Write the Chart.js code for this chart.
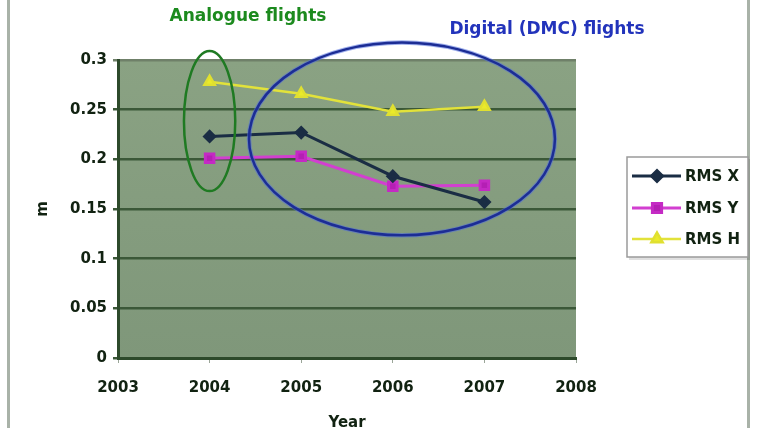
<!DOCTYPE html>
<html>
<head>
<meta charset="utf-8">
<script src="https://cdn.jsdelivr.net/npm/chart.js@4.4.1/dist/chart.umd.min.js"></script>
<style>
  html, body { margin: 0; padding: 0; background: #fff; }
  #wrap { width: 760px; height: 428px; position: relative; }
</style>
</head>
<body>
<div id="wrap"><canvas id="rmsChart" width="760" height="428"></canvas></div>
<script>
// data
const years = [2004, 2005, 2006, 2007];
const rmsX = [0.223, 0.227, 0.183, 0.157];
const rmsY = [0.201, 0.203, 0.173, 0.174];
const rmsH = [0.278, 0.266, 0.248, 0.253];
const yTicks = [0, 0.05, 0.1, 0.15, 0.2, 0.25, 0.3];
const seriesNames = ['RMS X', 'RMS Y', 'RMS H'];

// ellipse annotations, in data units: [centerYear, centerValue, radiusYears, radiusValue]
const analogueRing = [2004, 0.2385, 0.28, 0.0705];
const digitalRing = [2006.1, 0.2205, 1.67, 0.097];

const FONT = 'DejaVu Sans';
const TEXT = '#112211';

const toPoints = (vals) => vals.map((v, i) => ({ x: years[i], y: v }));

// background, frame, plot fill
const backdrop = {
  id: 'backdrop',
  beforeDraw(chart) {
    const { ctx, chartArea: a } = chart;
    ctx.save();
    ctx.fillStyle = '#ffffff';
    ctx.fillRect(0, 0, chart.width, chart.height);
    const g = ctx.createLinearGradient(0, a.top, 0, a.bottom);
    g.addColorStop(0, '#8aa283');
    g.addColorStop(1, '#7f977a');
    ctx.fillStyle = g;
    ctx.fillRect(a.left, a.top, a.right - a.left, a.bottom - a.top);
    // outer frame lines
    ctx.fillStyle = '#a9b2a8';
    ctx.fillRect(7, 0, 3, chart.height);
    ctx.fillRect(747, 0, 3, chart.height);
    ctx.restore();
  }
};

// rings, captions and legend box
const annotations = {
  id: 'annotations',
  afterDatasetsDraw(chart) {
    const { ctx } = chart;
    const xs = chart.scales.x, ys = chart.scales.y;
    const ring = (r, color, halo) => {
      const cx = xs.getPixelForValue(r[0]);
      const cy = ys.getPixelForValue(r[1]);
      const rx = Math.abs(xs.getPixelForValue(r[0] + r[2]) - cx);
      const ry = Math.abs(ys.getPixelForValue(r[1] + r[3]) - cy);
      ctx.save();
      if (halo) {
        ctx.strokeStyle = halo;
        ctx.lineWidth = 4.5;
        ctx.beginPath();
        ctx.ellipse(cx, cy, rx, ry, 0, 0, Math.PI * 2);
        ctx.stroke();
      }
      ctx.strokeStyle = color;
      ctx.lineWidth = 2.5;
      ctx.beginPath();
      ctx.ellipse(cx, cy, rx, ry, 0, 0, Math.PI * 2);
      ctx.stroke();
      ctx.restore();
    };
    ring(analogueRing, '#1f7a22', null);
    ring(digitalRing, '#1c2d95', 'rgba(80,110,220,0.55)');

    ctx.save();
    ctx.font = `bold 17px "${FONT}"`;
    ctx.textAlign = 'center';
    ctx.textBaseline = 'middle';
    ctx.fillStyle = '#1c8a1e';
    ctx.fillText('Analogue flights', 248, 17);
    ctx.fillStyle = '#2233bb';
    ctx.fillText('Digital (DMC) flights', 547, 30);
    ctx.restore();

    // legend
    ctx.save();
    ctx.fillStyle = 'rgba(0,0,0,0.12)';
    ctx.fillRect(629, 159, 121, 101);
    ctx.fillStyle = '#ffffff';
    ctx.fillRect(627, 157, 121, 100);
    ctx.strokeStyle = '#9a9a9a';
    ctx.lineWidth = 1.5;
    ctx.strokeRect(627, 157, 121, 100);
    const rows = [176, 208, 239];
    chart.data.datasets.forEach((ds, i) => {
      const y = rows[i];
      ctx.strokeStyle = ds.borderColor;
      ctx.lineWidth = ds.borderWidth;
      ctx.beginPath();
      ctx.moveTo(632, y);
      ctx.lineTo(681, y);
      ctx.stroke();
      ctx.fillStyle = ds.pointBackgroundColor;
      ctx.strokeStyle = ds.pointBorderColor;
      Chart.helpers.drawPoint(ctx, {
        pointStyle: ds.pointStyle, radius: ds.pointRadius + 0.5,
        borderWidth: 1
      }, 657, y);
      ctx.fillStyle = TEXT;
      ctx.font = `bold 15px "${FONT}"`;
      ctx.textAlign = 'left';
      ctx.textBaseline = 'middle';
      ctx.fillText(ds.label, 685, y + 1);
    });
    ctx.restore();
  }
};

const ctx = document.getElementById('rmsChart').getContext('2d');
new Chart(ctx, {
  type: 'line',
  data: {
    datasets: [
      {
        label: seriesNames[0],
        data: toPoints(rmsX),
        borderColor: '#1a2d44',
        borderWidth: 3,
        pointStyle: 'rectRot',
        pointRadius: 5,
        pointBackgroundColor: '#1a2d44',
        pointBorderColor: '#1a2d44',
        tension: 0
      },
      {
        label: seriesNames[1],
        data: toPoints(rmsY),
        borderColor: '#d23fd0',
        borderWidth: 3,
        pointStyle: 'rect',
        pointRadius: 6,
        pointBackgroundColor: '#b41fb4',
        pointBorderColor: '#c42ac4',
        tension: 0
      },
      {
        label: seriesNames[2],
        data: toPoints(rmsH),
        borderColor: '#e2e23a',
        borderWidth: 2.5,
        pointStyle: 'triangle',
        pointRadius: 6,
        pointBackgroundColor: '#eaea2a',
        pointBorderColor: '#e0e030',
        tension: 0
      }
    ]
  },
  options: {
    responsive: false,
    animation: false,
    layout: { padding: { left: 0, right: 184, top: 60, bottom: 0 } },
    plugins: {
      legend: { display: false },
      tooltip: { enabled: false }
    },
    scales: {
      x: {
        type: 'linear',
        min: 2003,
        max: 2008,
        ticks: {
          stepSize: 1,
          color: TEXT,
          font: { family: FONT, size: 15, weight: 'bold' },
          padding: 16,
          callback: (v) => String(v)
        },
        grid: {
          drawOnChartArea: false,
          drawTicks: true,
          tickLength: 5,
          color: '#9aa598'
        },
        border: { color: '#2d4a2b', width: 3 },
        title: {
          display: true,
          text: 'Year',
          color: TEXT,
          font: { family: FONT, size: 15, weight: 'bold' },
          padding: { top: 0, bottom: -4 }
        },
        afterFit: (scale) => { scale.height = 70; }
      },
      y: {
        min: 0,
        max: 0.3,
        afterBuildTicks: (scale) => {
          scale.ticks = yTicks.map((v) => ({ value: v }));
        },
        ticks: {
          color: TEXT,
          font: { family: FONT, size: 15, weight: 'bold' },
          padding: 6,
          callback: (v) => String(v)
        },
        grid: {
          color: (c) => (c.tick && c.tick.value === 0.3 ? '#6f8069' : '#3b5838'),
          lineWidth: 2.5,
          tickLength: 5
        },
        border: { color: '#2d4a2b', width: 3 },
        title: {
          display: true,
          text: 'm',
          color: TEXT,
          font: { family: FONT, size: 15, weight: 'bold' },
          padding: { top: 34, bottom: 0 }
        },
        afterFit: (scale) => { scale.width = 118; }
      }
    }
  },
  plugins: [backdrop, annotations]
});
</script>
</body>
</html>
